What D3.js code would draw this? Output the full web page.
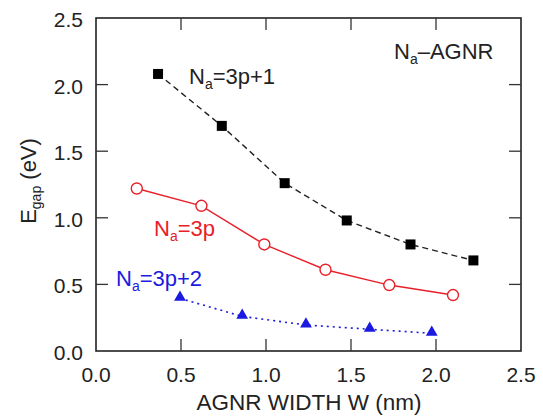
<!DOCTYPE html>
<html><head><meta charset="utf-8">
<script src="https://cdn.jsdelivr.net/npm/d3@7"></script>
<style>body{margin:0;background:#fff}svg{display:block}text{font-family:"Liberation Sans",Arial,sans-serif;}</style>
</head><body><svg id="c" width="543" height="418"></svg>
<script>
const blackX = [0.365, 0.74, 1.11, 1.475, 1.85, 2.22];
const blackY = [2.08, 1.69, 1.26, 0.98, 0.80, 0.68];
const redX = [0.24, 0.62, 0.99, 1.35, 1.725, 2.10];
const redY = [1.22, 1.09, 0.80, 0.61, 0.495, 0.42];
const blueX = [0.494, 0.86, 1.235, 1.61, 1.975];
const blueY = [0.395, 0.26, 0.195, 0.163, 0.133];
const xTicks = [0, 0.5, 1.0, 1.5, 2.0, 2.5];
const yTicks = [0, 0.5, 1.0, 1.5, 2.0, 2.5];

const svg = d3.select("#c");
const L=96, R=521, T=18, B=351;
const x = d3.scaleLinear().domain([0,2.5]).range([L,R]);
const y = d3.scaleLinear().domain([0,2.5]).range([B,T]);
const fs = 21;
const tick = 12;

// frame
svg.append("rect").attr("x",L).attr("y",T).attr("width",R-L).attr("height",B-T)
  .attr("fill","none").attr("stroke","#222").attr("stroke-width",1.6);

// ticks
const tg = svg.append("g").attr("stroke","#333").attr("stroke-width",1.3);
xTicks.slice(1,-1).forEach(v=>{
  tg.append("line").attr("x1",x(v)).attr("x2",x(v)).attr("y1",B).attr("y2",B-tick);
  tg.append("line").attr("x1",x(v)).attr("x2",x(v)).attr("y1",T).attr("y2",T+tick);
});
yTicks.slice(1,-1).forEach(v=>{
  tg.append("line").attr("y1",y(v)).attr("y2",y(v)).attr("x1",L).attr("x2",L+tick);
  tg.append("line").attr("y1",y(v)).attr("y2",y(v)).attr("x1",R).attr("x2",R-tick);
});
// tick labels
xTicks.forEach(v=>{
  svg.append("text").attr("x",x(v)).attr("y",B+31).attr("text-anchor","middle")
    .attr("font-size",fs).attr("fill","#222").text(v.toFixed(1));
});
yTicks.forEach(v=>{
  svg.append("text").attr("x",L-13).attr("y",y(v)+9).attr("text-anchor","end")
    .attr("font-size",fs).attr("fill","#222").text(v.toFixed(1));
});
// axis titles
svg.append("text").attr("x",309).attr("y",410).attr("text-anchor","middle")
  .attr("font-size",22.5).attr("fill","#222").text("AGNR WIDTH W (nm)");
const yt = svg.append("text").attr("transform","translate(36,181) rotate(-90)")
  .attr("text-anchor","middle").attr("font-size",22).attr("fill","#222");
yt.append("tspan").text("E");
yt.append("tspan").attr("font-size",14).attr("dy",5).text("gap");
yt.append("tspan").attr("dy",-5).text(" (eV)");

const line = d3.line().x(d=>x(d[0])).y(d=>y(d[1]));
const zip = (a,b)=>a.map((v,i)=>[v,b[i]]);
const bd = zip(blackX,blackY), rd = zip(redX,redY), bl = zip(blueX,blueY);

svg.append("path").attr("d",line(bd)).attr("fill","none").attr("stroke","#222")
  .attr("stroke-width",1.4).attr("stroke-dasharray","6,4");
svg.append("path").attr("d",line(rd)).attr("fill","none").attr("stroke","#e8202a")
  .attr("stroke-width",1.4);
svg.append("path").attr("d",line(bl)).attr("fill","none").attr("stroke","#1a1ae0")
  .attr("stroke-width",1.6).attr("stroke-dasharray","2,4");

svg.selectAll(".sq").data(bd).enter().append("rect")
  .attr("x",d=>x(d[0])-5).attr("y",d=>y(d[1])-5).attr("width",10).attr("height",10).attr("fill","#000");
svg.selectAll(".ci").data(rd).enter().append("circle")
  .attr("cx",d=>x(d[0])).attr("cy",d=>y(d[1])).attr("r",5.5).attr("fill","#fff")
  .attr("stroke","#e8202a").attr("stroke-width",1.4);
const tri = d3.symbol().type(d3.symbolTriangle).size(60);
svg.selectAll(".tr").data(bl).enter().append("path")
  .attr("d",tri).attr("transform",d=>`translate(${x(d[0])},${y(d[1])-1})`).attr("fill","#1a1ae0");

// labels
function lab(px,py,color,main,sub,rest){
  const t = svg.append("text").attr("x",px).attr("y",py).attr("font-size",22).attr("fill",color);
  t.append("tspan").text(main);
  t.append("tspan").attr("font-size",14).attr("dy",5).text(sub);
  t.append("tspan").attr("dy",-5).text(rest);
}
lab(189,84,"#222","N","a","=3p+1");
lab(154,236,"#e8202a","N","a","=3p");
lab(116,286,"#1a1ae0","N","a","=3p+2");
lab(394,59,"#222","N","a","\u2013AGNR");
</script></body></html>
